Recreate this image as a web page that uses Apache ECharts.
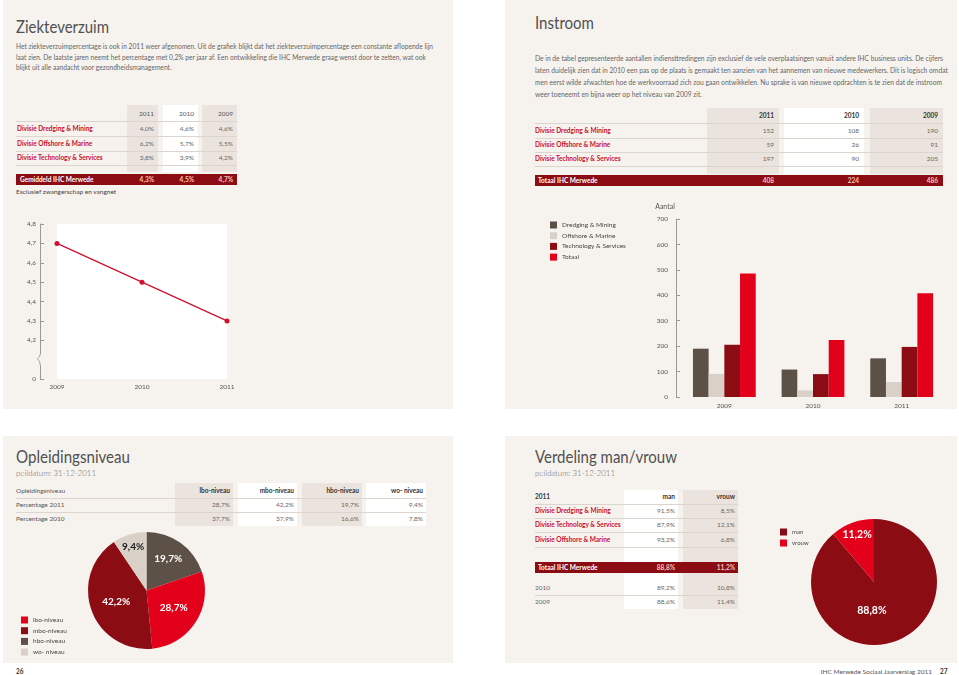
<!DOCTYPE html>
<html><head><meta charset="utf-8">
<script src="https://cdn.jsdelivr.net/npm/echarts@6/dist/echarts.min.js"></script>
<style>
body{margin:0;background:#fff;font-family:Lato,"Open Sans",sans-serif;}
#page{position:relative;width:959px;height:675px;overflow:hidden;background:#fff;}
#chart{position:absolute;left:0;top:0;width:959px;height:675px;}
</style></head><body>
<div id="page"></div>
<script>
// ---------- DATA ----------
const sickYears = ['2011', '2010', '2009'];
const sickDivisions = ['Divisie Dredging & Mining', 'Divisie Offshore & Marine', 'Divisie Technology & Services'];
const sickRates = [[4.0, 4.6, 4.6], [6.2, 5.7, 5.5], [3.8, 3.9, 4.2]];
const sickAverage = [4.3, 4.5, 4.7];
const lineYears = ['2009', '2010', '2011'];
const lineValues = [4.7, 4.5, 4.3];
const lineTicks = ['0', '', '4,2', '4,3', '4,4', '4,5', '4,6', '4,7', '4,8'];

const inTableYears = ['2011', '2010', '2009'];
const inDivisions = ['Divisie Dredging & Mining', 'Divisie Offshore & Marine', 'Divisie Technology & Services'];
const inYears = ['2009', '2010', '2011'];
const inDredging = [190, 108, 152];
const inOffshore = [91, 26, 59];
const inTech = [205, 90, 197];
const inTotal = [486, 224, 408];
const inSeriesNames = ['Dredging & Mining', 'Offshore & Marine', 'Technology & Services', 'Totaal'];

const eduLevels = ['lbo-niveau', 'mbo-niveau', 'hbo-niveau', 'wo- niveau'];
const edu2011 = [28.7, 42.2, 19.7, 9.4];
const edu2010 = [37.7, 37.9, 16.6, 7.8];
const eduPieOrder = [2, 0, 1, 3];

const genderCols = ['man', 'vrouw'];
const genderDivisions = ['Divisie Dredging & Mining', 'Divisie Technology & Services', 'Divisie Offshore & Marine'];
const genderMan = [91.5, 87.9, 93.2];
const genderVrouw = [8.5, 12.1, 6.8];
const genderTotal = [88.8, 11.2];
const genderHistYears = ['2010', '2009'];
const genderHistMan = [89.2, 88.6];
const genderHistVrouw = [10.8, 11.4];

// ---------- STYLE ----------
const BG = '#f6f3ef', COL = '#ebe4de', DARK = '#8c0c14', RED = '#e2001a', BROWN = '#5d5046', LIGHT = '#d9d0c7', LBL = '#c8102e', LINE = '#dcd5ce';
const pct = v => v.toFixed(1).replace('.', ',') + '%';
const page = document.getElementById('page');

function rect(x0, y0, x1, y1, c) {
  const d = document.createElement('div');
  d.style.cssText = `position:absolute;left:${x0}px;top:${y0}px;width:${x1 - x0}px;height:${y1 - y0}px;background:${c}`;
  page.appendChild(d); return d;
}
function text(x, y, s, o) {
  o = o || {};
  const d = document.createElement('div');
  d.textContent = s;
  const tx = o.align === 'right' ? '-100%' : (o.align === 'center' ? '-50%' : '0');
  d.style.cssText = `position:absolute;left:${x}px;top:${y}px;white-space:nowrap;line-height:1;font-size:${o.size || 6.5}px;color:${o.color || '#5a5a5a'};font-weight:${o.weight || (o.bold ? 700 : 400)};transform:translate(${tx},-50%);`;
  page.appendChild(d); return d;
}
function hline(x0, x1, y) { rect(x0, y, x1, y + 1, LINE); }
function fit(els, targetW) {
  const w = els[0].getBoundingClientRect().width;
  const k = targetW / w;
  els.forEach(e => { e.style.transformOrigin = '0 50%'; e.style.transform = `translate(0,-50%) scaleX(${k})`; });
}
function para(x, ys, lines, targetW, size) {
  fit(lines.map((s, i) => text(x, ys[i], s, {size: size, color: '#666'})), targetW);
}
function title(x, y, s, w) { fit([text(x, y, s, {size: 16.5, color: '#505050', weight: 400})], w); }

// panels
rect(3, 0, 453, 409, BG);
rect(505, 0, 957, 409, BG);
rect(3, 436, 453, 663, BG);
rect(505, 436, 957, 663, BG);

// titles
title(16, 27, 'Ziekteverzuim', 93);
title(535, 23, 'Instroom', 59);
title(16, 457, 'Opleidingsniveau', 114);
title(535, 457, 'Verdeling man/vrouw', 142);
fit([text(16, 473, 'peildatum: 31-12-2011', {size: 8.5, color: '#666', weight: 300})], 80);
fit([text(535, 473, 'peildatum: 31-12-2011', {size: 8.5, color: '#666', weight: 300})], 80);

para(16, [47, 57.5, 68], [
  'Het ziekteverzuimpercentage is ook in 2011 weer afgenomen. Uit de grafiek blijkt dat het ziekteverzuimpercentage een constante aflopende lijn',
  'laat zien. De laatste jaren neemt het percentage met 0,2% per jaar af. Een ontwikkeling die IHC Merwede graag wenst door te zetten, wat ook',
  'blijkt uit alle aandacht voor gezondheidsmanagement.'], 417, 7.2);
para(535, [58.5, 70.5, 82.5, 94.5], [
  'De in de tabel gepresenteerde aantallen indiensttredingen zijn exclusief de vele overplaatsingen vanuit andere IHC business units. De cijfers',
  'laten duidelijk zien dat in 2010 een pas op de plaats is gemaakt ten aanzien van het aannemen van nieuwe medewerkers. Dit is logisch omdat',
  'men eerst wilde afwachten hoe de werkvoorraad zich zou gaan ontwikkelen. Nu sprake is van nieuwe opdrachten is te zien dat de instroom',
  'weer toeneemt en bijna weer op het niveau van 2009 zit.'], 408, 7.2);

// ---- Ziekteverzuim table ----
(function () {
  const cols = [[127, 158, COL], [163, 198, '#fff'], [202, 237, COL]];
  cols.forEach(c => rect(c[0], 105, c[1], 172, c[2]));
  [121, 136, 151, 165].forEach(y => hline(16, 237, y));
  sickYears.forEach((y, i) => text(cols[i][1] - 4, 114, y, {align: 'right', color: '#555'}));
  const rows = [129, 144, 158];
  sickDivisions.forEach((d, r) => {
    text(17, rows[r], d, {bold: true, color: LBL});
    sickRates[r].forEach((v, i) => text(cols[i][1] - 4, rows[r], pct(v), {align: 'right', color: '#666'}));
  });
  rect(16, 174, 237, 185, DARK);
  text(20, 179.5, 'Gemiddeld IHC Merwede', {bold: true, color: '#fff'});
  sickAverage.forEach((v, i) => text(cols[i][1] - 4, 179.5, pct(v), {align: 'right', bold: true, color: '#f7c7b4'}));
  text(16, 192, 'Exclusief zwangerschap en vangnet', {color: '#444'});
})();

// ---- Instroom table ----
(function () {
  const cols = [[707, 779, COL], [784, 864, '#fff'], [870, 943, COL]];
  cols.forEach(c => rect(c[0], 108, c[1], 174, c[2]));
  [123, 138, 152, 166].forEach(y => hline(535, 943, y));
  inTableYears.forEach((y, i) => text(cols[i][1] - 5, 116, y, {align: 'right', bold: true, color: '#333'}));
  const rows = [131, 145, 159];
  const vals = [inDredging, inOffshore, inTech];
  inDivisions.forEach((d, r) => {
    text(535, rows[r], d, {bold: true, color: LBL});
    inTableYears.forEach((y, i) => text(cols[i][1] - 5, rows[r], String(vals[r][inYears.indexOf(y)]), {align: 'right', color: '#666'}));
  });
  rect(535, 175, 943, 186, DARK);
  text(538, 180.5, 'Totaal IHC Merwede', {bold: true, color: '#fff'});
  inTableYears.forEach((y, i) => text(cols[i][1] - 5, 180.5, String(inTotal[inYears.indexOf(y)]), {align: 'right', bold: true, color: '#f7c7b4'}));
})();

// ---- Opleidingsniveau table ----
(function () {
  const cols = [[175, 233, COL], [238, 297, '#fff'], [302, 362, COL], [366, 426, '#fff']];
  cols.forEach(c => rect(c[0], 483, c[1], 526, c[2]));
  [498, 512].forEach(y => hline(16, 426, y));
  text(16, 491, 'Opleidingsniveau', {color: '#555'});
  eduLevels.forEach((l, i) => text(cols[i][1] - 3, 491, l, {align: 'right', bold: true, color: '#333'}));
  text(16, 505, 'Percentage 2011', {color: '#555'});
  text(16, 519, 'Percentage 2010', {color: '#555'});
  edu2011.forEach((v, i) => text(cols[i][1] - 3, 505, pct(v), {align: 'right', color: '#666'}));
  edu2010.forEach((v, i) => text(cols[i][1] - 3, 519, pct(v), {align: 'right', color: '#666'}));
})();

// ---- man/vrouw table ----
(function () {
  const cols = [[624, 678, '#fff'], [683, 738, COL]];
  cols.forEach(c => rect(c[0], 490, c[1], 609, c[2]));
  [504, 518, 532, 547, 595].forEach(y => hline(535, 738, y));
  text(535, 497, '2011', {bold: true, color: '#333'});
  genderCols.forEach((l, i) => text(cols[i][1] - 3, 497, l, {align: 'right', bold: true, color: '#333'}));
  const rows = [511, 525, 540];
  genderDivisions.forEach((d, r) => {
    text(535, rows[r], d, {bold: true, color: LBL});
    text(cols[0][1] - 3, rows[r], pct(genderMan[r]), {align: 'right', color: '#666'});
    text(cols[1][1] - 3, rows[r], pct(genderVrouw[r]), {align: 'right', color: '#666'});
  });
  rect(535, 562, 738, 573, DARK);
  text(538, 567.5, 'Totaal IHC Merwede', {bold: true, color: '#fff'});
  genderTotal.forEach((v, i) => text(cols[i][1] - 3, 567.5, pct(v), {align: 'right', bold: true, color: '#f7c7b4'}));
  const hy = [588, 602];
  genderHistYears.forEach((y, r) => {
    text(535, hy[r], y, {color: '#666'});
    text(cols[0][1] - 3, hy[r], pct(genderHistMan[r]), {align: 'right', color: '#666'});
    text(cols[1][1] - 3, hy[r], pct(genderHistVrouw[r]), {align: 'right', color: '#666'});
  });
})();

// footer
text(16, 672, '26', {bold: true, color: '#333', size: 6.5});
text(932, 672, 'IHC Merwede Sociaal Jaarverslag 2011', {align: 'right', color: '#555', size: 6.5});
text(940, 672, '27', {bold: true, color: '#333', size: 6.5});

// ---------- CHARTS ----------
const cdiv = document.createElement('div'); cdiv.id = 'chart'; page.appendChild(cdiv);
const chart = echarts.init(cdiv, null, {renderer: 'canvas'});
const axisGrey = '#9a9a9a';
const eduColors = {'lbo-niveau': RED, 'mbo-niveau': DARK, 'hbo-niveau': BROWN, 'wo- niveau': LIGHT};
const eduOffsets = {'hbo-niveau': [3, -5], 'wo- niveau': [-4, -13]};
const genderOffsets = {'man': [-14, -4], 'vrouw': [-5, -15]};

chart.setOption({
  animation: false,
  textStyle: {fontFamily: 'Lato'},
  grid: [
    {left: 57, top: 224, width: 170, height: 155, show: true, backgroundColor: '#fff', borderWidth: 0},
    {left: 680, top: 219, width: 266, height: 178}
  ],
  xAxis: [
    {gridIndex: 0, type: 'category', data: lineYears, boundaryGap: false,
     axisLine: {show: false}, axisTick: {show: false},
     axisLabel: {fontSize: 6.5, color: '#555', margin: 4}},
    {gridIndex: 1, type: 'category', data: inYears,
     axisLine: {show: false}, axisTick: {show: false},
     axisLabel: {fontSize: 6.5, color: '#555', margin: 5}}
  ],
  yAxis: [
    {gridIndex: 0, type: 'value', min: 4.0, max: 4.8, interval: 0.1, offset: 17,
     axisLine: {show: true, lineStyle: {color: axisGrey}},
     axisTick: {show: true, inside: true, length: 4, lineStyle: {color: axisGrey}},
     splitLine: {show: false},
     axisLabel: {fontSize: 6.5, color: '#555', margin: 4,
       formatter: v => lineTicks[Math.round((v - 4.0) * 10)]}},
    {gridIndex: 1, type: 'value', min: 0, max: 700, interval: 100, offset: 4,
     name: 'Aantal', nameLocation: 'end', nameGap: 9,
     nameTextStyle: {fontSize: 7, color: '#555', align: 'center', padding: [0, 22, 0, 0]},
     axisLine: {show: true, lineStyle: {color: axisGrey}},
     axisTick: {show: true, inside: true, length: 4, lineStyle: {color: axisGrey}},
     splitLine: {show: false},
     axisLabel: {fontSize: 6.5, color: '#555', margin: 8}}
  ],
  legend: [
    {orient: 'vertical', left: 545, top: 216.5, itemWidth: 7, itemHeight: 7, itemGap: 3.7,
     icon: 'rect', data: inSeriesNames, textStyle: {fontSize: 6.5, color: '#444'}},
    {orient: 'vertical', left: 16, top: 611.5, itemWidth: 7, itemHeight: 7, itemGap: 3.7,
     icon: 'rect', data: eduLevels, textStyle: {fontSize: 6.5, color: '#444'}},
    {orient: 'vertical', left: 775, top: 523.5, itemWidth: 7, itemHeight: 7, itemGap: 4,
     icon: 'rect', data: genderCols, textStyle: {fontSize: 6, color: '#444'}}
  ],
  series: [
    {type: 'line', xAxisIndex: 0, yAxisIndex: 0, data: lineValues,
     symbol: 'circle', symbolSize: 5, color: '#cf1130',
     lineStyle: {width: 1.3, color: '#cf1130'}, itemStyle: {color: '#cf1130'}},
    {name: inSeriesNames[0], type: 'bar', xAxisIndex: 1, yAxisIndex: 1, data: inDredging, barWidth: 15.7, barGap: '0%', itemStyle: {color: BROWN}},
    {name: inSeriesNames[1], type: 'bar', xAxisIndex: 1, yAxisIndex: 1, data: inOffshore, barWidth: 15.7, barGap: '0%', itemStyle: {color: LIGHT}},
    {name: inSeriesNames[2], type: 'bar', xAxisIndex: 1, yAxisIndex: 1, data: inTech, barWidth: 15.7, barGap: '0%', itemStyle: {color: DARK}},
    {name: inSeriesNames[3], type: 'bar', xAxisIndex: 1, yAxisIndex: 1, data: inTotal, barWidth: 15.7, barGap: '0%', itemStyle: {color: RED}},
    {type: 'pie', center: [146.5, 590.5], radius: 58.5, startAngle: 90, clockwise: true,
     itemStyle: {borderWidth: 0},
     label: {position: 'inside', formatter: p => pct(p.value), fontSize: 10, fontWeight: 'bold', color: '#fff'},
     labelLine: {show: false},
     labelLayout: p => { const n = eduLevels[eduPieOrder[p.dataIndex]]; const o = eduOffsets[n]; return o ? {dx: o[0], dy: o[1]} : {}; },
     data: eduPieOrder.map(i => ({name: eduLevels[i], value: edu2011[i],
       itemStyle: {color: eduColors[eduLevels[i]]},
       label: eduLevels[i] === 'wo- niveau' ? {color: '#222'} : {}}))},
    {type: 'pie', center: [874, 582], radius: 63, startAngle: 90, clockwise: true,
     itemStyle: {borderWidth: 0},
     label: {position: 'inside', formatter: p => pct(p.value), fontSize: 10.5, fontWeight: 'bold', color: '#fff'},
     labelLine: {show: false},
     labelLayout: p => { const o = genderOffsets[genderCols[p.dataIndex]]; return o ? {dx: o[0], dy: o[1]} : {}; },
     data: [{name: genderCols[0], value: genderTotal[0], itemStyle: {color: DARK}},
            {name: genderCols[1], value: genderTotal[1], itemStyle: {color: RED}}]}
  ]
});

// axis break mark on the line chart's y axis (drawn straight onto the zrender layer, no relayout)
const by = chart.convertToPixel({yAxisIndex: 0}, 4.1);
const bx = chart.convertToPixel({xAxisIndex: 0}, lineYears[0]) - 17;
const zr = chart.getZr();
zr.add(new echarts.graphic.Rect({shape: {x: bx - 3, y: by - 5, width: 8, height: 10}, style: {fill: BG}, silent: true, z: 100}));
zr.add(new echarts.graphic.BezierCurve({shape: {x1: bx, y1: by - 5, x2: bx - 2, y2: by, cpx1: bx, cpy1: by - 2, cpx2: bx - 3, cpy2: by - 2},
  style: {fill: 'none', stroke: axisGrey, lineWidth: 1}, silent: true, z: 101}));
zr.add(new echarts.graphic.BezierCurve({shape: {x1: bx - 2, y1: by, x2: bx, y2: by + 5, cpx1: bx - 1, cpy1: by + 1, cpx2: bx, cpy2: by + 2},
  style: {fill: 'none', stroke: axisGrey, lineWidth: 1}, silent: true, z: 101}));
</script>
</body></html>
